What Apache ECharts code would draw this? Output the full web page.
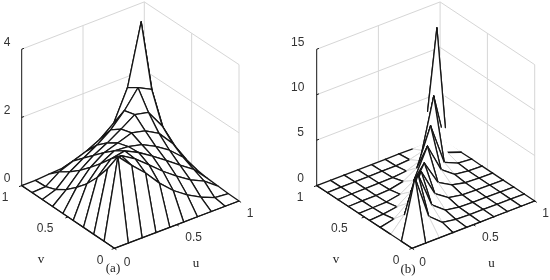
<!DOCTYPE html>
<html><head><meta charset="utf-8">
<style>html,body{margin:0;padding:0;background:#fff}#c{width:550px;height:280px}</style>
<script src="https://cdn.jsdelivr.net/npm/echarts@6/dist/echarts.min.js"></script>
</head><body><div id="c"></div>
<script>
const gridSteps = [0,1,2,3,4,5,6,7,8,9];
const uvTicks = [0,0.5,1];
const uvTickLabels = ['0','0.5','1'];
const zTicksA = [0,2,4];
const zTicksB = [0,5,10,15];
const surfaceA = [
 [0,0,0,0,0,0,0,0,0,0],
 [0,2.33,1.92,1.54,1.09,.72,.44,.22,.05,.01],
 [0,1.77,2.0,1.75,1.42,1.08,.78,.52,.33,.03],
 [0,1.31,1.7,1.78,1.58,1.32,1.04,.75,.47,.05],
 [0,.92,1.36,1.58,1.55,1.45,1.25,.98,.62,.1],
 [0,.61,1.04,1.32,1.45,1.59,1.5,1.27,.82,.2],
 [0,.34,.75,1.04,1.25,1.5,1.77,1.68,1.13,.35],
 [0,.14,.5,.75,.98,1.27,1.68,2.2,2.0,.5],
 [0,.02,.3,.46,.6,.8,1.12,2.0,3.77,1.1],
 [0,0,.03,.05,.1,.2,.35,.5,1.1,.9]
];
const surfaceB = [
 [0,0,0,0,0,0,0,0,0,0],
 [0,6.4,1.6,.35,.1,.05,.04,.03,.02,0],
 [0,1.6,5.4,1.5,.35,.1,.05,.04,.03,0],
 [0,.35,1.5,4.4,1.4,.38,.12,.06,.03,0],
 [0,.12,.35,1.4,4.0,1.3,.45,.1,.04,0],
 [0,.05,.1,.38,1.3,4.5,1.35,.25,.05,0],
 [0,.04,.05,.12,.45,1.35,5.4,.8,.15,.02],
 [0,.03,.04,.06,.1,.25,.8,7.33,.55,0],
 [0,.02,.03,.03,.04,.05,.15,.55,13.5,.1],
 [0,0,0,0,0,0,.02,0,.1,.1]
];

const panels = [
 {z:surfaceA, zTicks:zTicksA, zMax:4, caption:'(a)', captionAt:[113,269], uAt:[196,264], vAt:[41,260], gaps:false,
  view:{ox:114.4,oy:248.3,ux:124.6,uy:-47.3,vx:-92.7,vy:-62.7,k:-2,zs:34.1},
  uOff:[[12.6,14],[17,13.5],[11,13]], vOff:[[-14.4,12.7],[-23,12],[-16.7,11.7]], zOffX:-14.7, zOffY:-7},
 {z:surfaceB, zTicks:zTicksB, zMax:15, caption:'(b)', captionAt:[133,270], uAt:[216.5,264], vAt:[61,260], gaps:true,
  view:{ox:137,oy:248.3,ux:122.7,uy:-47.3,vx:-95.3,vy:-62.7,k:.7,zs:9.09},
  uOff:[[10.7,14],[17,13.5],[11,13]], vOff:[[-16,12.7],[-25,12],[-16.7,11.7]], zOffX:-16, zOffY:-7}
];

function project(p,u,v,z){const w=p.view;
  return [w.ox+w.ux*u+w.vx*v+w.k*u*v, w.oy+w.uy*u+w.vy*v-w.zs*z];}

function lineSeries(idx,p,pts,color,width,zl){
  return {type:'line',xAxisIndex:idx,yAxisIndex:idx,silent:true,showSymbol:false,animation:false,z:zl,
    lineStyle:{color:color,width:width},data:pts.map(q=>project(p,q[0],q[1],q[2]))};
}

const BLACK='#161616', FAINT='#d4d4d4';
function rowEdge(i,j){
  if(i===7&&j===9||i===8&&j===9||i===8&&j===8) return null;
  if(i+1<=j){ if(i+1===j) return [BLACK,1]; if(i+1===j-1) return [FAINT,1]; return [BLACK,1]; }
  return [BLACK,1];
}
function colEdge(i,j){
  if(i===8&&j===8||i===9&&j>=7) return null;
  if(j>=i){ if(j===i) return [BLACK,1]; if(j===i+1) return [FAINT,1]; return [BLACK,1]; }
  if(j+1===i) return [BLACK,1];
  if(j+1===i-1) return [FAINT,1];
  return [BLACK,1];
}
const partialEdges={'c8,7':0.2,'r7,8':0.32,'r7,7':0.45};

const series=[];
panels.forEach((p,idx)=>{
  const gray='#d6d6d6', M=p.zMax;
  p.zTicks.forEach(t=>{ series.push(lineSeries(idx,p,[[0,1,t],[1,1,t],[1,0,t]],gray,1,1)); });
  [[.5,1],[1,.5],[1,1],[1,0]].forEach(c=>series.push(lineSeries(idx,p,[[c[0],c[1],0],[c[0],c[1],M]],gray,1,1)));
  series.push(lineSeries(idx,p,[[.5,0,0],[.5,1,0]],gray,1,1));
  series.push(lineSeries(idx,p,[[0,.5,0],[1,.5,0]],gray,1,1));

  const cells=[];
  for(let s=16;s>=0;s--) for(let i=0;i<9;i++){const j=s-i; if(j>=0&&j<9&&!(p.gaps&&i===8&&j===8)) cells.push([i,j]);}
  series.push({type:'custom',xAxisIndex:idx,yAxisIndex:idx,silent:true,animation:false,z:3,clip:false,
    data:cells,encode:{x:0,y:1},
    renderItem:(ps,api)=>{
      const i=api.value(0), j=api.value(1);
      const node=(a,b)=>api.coord(project(p,gridSteps[a]/9,gridSteps[b]/9,p.z[b][a]));
      const pts=[node(i,j),node(i+1,j),node(i+1,j+1),node(i,j+1)];
      if(!p.gaps) return {type:'polygon',shape:{points:pts},
        style:{fill:'#fff',stroke:BLACK,lineWidth:1.3,lineJoin:'round'}};
      const kids=[{type:'polygon',shape:{points:pts},style:{fill:'#fff',stroke:null}}];
      const edge=(a,b,st,key)=>{
        if(!st) return;
        let e=b, from=a;
        const f=partialEdges[key];
        if(f!==undefined){
          const peak=key==='c8,7'?b:(key==='r7,8'?b:a), low=peak===a?b:a;
          from=peak; e=[peak[0]+(low[0]-peak[0])*(1-f),peak[1]+(low[1]-peak[1])*(1-f)];
        }
        kids.push({type:'line',shape:{x1:from[0],y1:from[1],x2:e[0],y2:e[1]},
          style:{stroke:st[0],lineWidth:st[0]===FAINT?0.8:1.3,lineCap:'round'}});
      };
      edge(pts[0],pts[1],rowEdge(i,j),'r'+i+','+j);
      edge(pts[3],pts[2],rowEdge(i,j+1),'r'+i+','+(j+1));
      edge(pts[0],pts[3],colEdge(i,j),'c'+i+','+j);
      edge(pts[1],pts[2],colEdge(i+1,j),'c'+(i+1)+','+j);
      return {type:'group',children:kids};
    }});

  series.push(lineSeries(idx,p,[[0,1,0],[0,0,0],[1,0,0]],BLACK,1.1,4));
  series.push(lineSeries(idx,p,[[0,1,0],[0,1,M]],BLACK,1,4));
  uvTicks.forEach(t=>{
    series.push(lineSeries(idx,p,[[t,0,0],[t,-.022,0]],BLACK,1,4));
    series.push(lineSeries(idx,p,[[0,t,0],[-.022,t,0]],BLACK,1,4));
  });
  p.zTicks.forEach(t=>series.push(lineSeries(idx,p,[[0,1,t],[.018,1,t]],BLACK,1,4)));

  const texts=[];
  uvTicks.forEach((t,k)=>{
    const a=project(p,t,0,0); texts.push([a[0]+p.uOff[k][0],a[1]+p.uOff[k][1],uvTickLabels[k],0]);
    const b=project(p,0,t,0); texts.push([b[0]+p.vOff[k][0],b[1]+p.vOff[k][1],uvTickLabels[k],0]);
  });
  p.zTicks.forEach(t=>{const a=project(p,0,1,t);
    texts.push([a[0]+p.zOffX-(String(t).length>1?3:0),a[1]+p.zOffY,String(t),0]);});
  texts.push([p.uAt[0],p.uAt[1],'u',1],[p.vAt[0],p.vAt[1],'v',1],[p.captionAt[0],p.captionAt[1],p.caption,1]);
  series.push({type:'custom',xAxisIndex:idx,yAxisIndex:idx,silent:true,animation:false,z:5,clip:false,
    data:texts.map(t=>[t[0],t[1]]),encode:{x:0,y:1},
    renderItem:(ps,api)=>{
      const t=texts[ps.dataIndex], c=api.coord([t[0],t[1]]);
      return {type:'text',x:c[0],y:c[1],style:{text:t[2],align:'center',verticalAlign:'middle',
        fill:t[3]?'#222':'#333',font:t[3]?'13px "Liberation Serif"':'12px "Liberation Sans"'}};
    }});
});

const chart=echarts.init(document.getElementById('c'),null,{renderer:'canvas'});
chart.setOption({animation:false,backgroundColor:'#fff',
  grid:[{left:0,top:0,width:275,height:280},{left:275,top:0,width:275,height:280}],
  xAxis:[0,1].map(g=>({type:'value',gridIndex:g,min:0,max:275,show:false})),
  yAxis:[0,1].map(g=>({type:'value',gridIndex:g,min:0,max:280,inverse:true,show:false})),
  series:series});
</script></body></html>
